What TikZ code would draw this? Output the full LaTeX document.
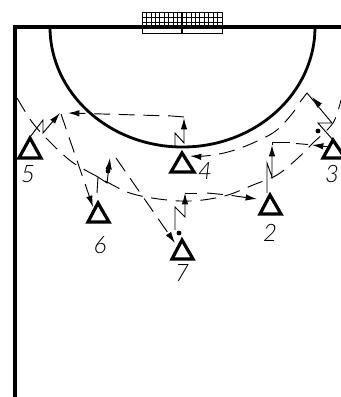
\documentclass[tikz,border=0pt]{standalone}
\usepackage{fontspec}
\usetikzlibrary{arrows.meta}
\newfontfamily\lab[ItalicFont={Lato Light Italic}]{Lato}
\tikzset{
 x=0.75pt,y=-0.75pt,
 wall/.style={line width=2.4pt,line cap=butt},
 player/.style={line width=2.4pt,line join=miter},
 plab/.style={font=\lab\itshape\fontsize{18pt}{18pt}\selectfont,inner sep=0pt},
 mv/.style={line width=0.7pt,line join=miter},
 pass/.style={line width=0.7pt,dash pattern=on 12pt off 6.5pt},
 head/.style={-{Latex[length=8.5pt,width=4.8pt]}},
 dotp/.style={circle,fill=black,inner sep=0pt,minimum size=3.6pt},
 goalnet/.style={line width=0.5pt},
}
\begin{document}
\begin{tikzpicture}
\useasboundingbox (0,0) rectangle (341,397);
% court
\coordinate (cTL) at (15,27); \coordinate (cBL) at (15,397); \coordinate (cTR) at (341,27);
\draw[wall] (cBL) -- (cTL) -- (cTR);
\draw[line width=2.1pt] (50,27) arc[start angle=180,end angle=0,x radius=132.5,y radius=120];
% goal
\fill[white] (142,12) rectangle (222,33);
\draw[line width=0.7pt] (142,27) -- (142,33) -- (222,33) -- (222,27);
\foreach \x in {142,146.44,...,222.1} \draw[goalnet] (\x,12) -- (\x,27);
\foreach \y in {12,17,22} \draw[goalnet] (142,\y) -- (222,\y);
\draw[line width=1.1pt] (182,12) -- (182,33);
\draw[wall] (142,27) -- (222,27);
% players
\foreach \n/\ax/\ay/\l/\r/\b in {p5/30/138/19/41/158,p4/182/153/171/194/172,p3/333/140/323/345/158,p2/270/195/260/281/214,p6/98/203/88/109/222,p7/182/240/172/193/259}
  \draw[player] (\ax,\ay) -- (\r,\b) -- (\l,\b) -- cycle;
\node[plab] (l5) at (28,174) {5};
\node[plab] (l4) at (205,171) {4};
\node[plab] (l3) at (332,174) {3};
\node[plab] (l2) at (270,233) {2};
\node[plab] (l6) at (100,245) {6};
\node[plab] (l7) at (182,273) {7};
\node[dotp] (d7) at (179,233) {};
\node[dotp] (d6) at (108,171) {};
\node[dotp] (d3) at (318,131) {};
% long curve
\draw[pass] plot[smooth,tension=0.55] coordinates {(17,98) (32,122) (48,140) (72,162) (100,178) (127,192) (152,198) (180,201) (203,200) (228,195) (253,185) (277,175) (298,158) (313,143) (333,123) (341,100)};
% player 4: zigzag then pass to 5's side
\draw[mv,head] (175,146) -- (175,133) -- (184,143) -- (184,118);
\draw[pass,head] (184,117) -- (172,116) -- (68,113);
% player 5
\draw[mv,head] (30,137) -- (43,120) -- (43,133) -- (60,113);
\draw[pass,head] (61,114) -- (93,207);
% player 6
\draw[mv,head] (97,193) -- (98,177) -- (107,183) -- (110,158);
\draw[pass,head] (116,158) -- (175,243);
% player 7
\draw[mv,head] (175,230) -- (175,207) -- (185,217) -- (185,193);
\draw[mv] (185,193) -- (197,193);
\draw[pass,head] (207,193) -- (228,195) -- (257,199);
% player 2
\draw[mv,head] (267,193) -- (267,163) -- (272,177) -- (272,145);
\draw[mv] (272,145) -- (272,142) -- (290,142);
\draw[mv,head] (330,147) -- (312,145);
\draw[mv] (308,144.5) -- (296,143.5);
% player 3
\draw[mv] (333,140) -- (318,123) -- (332,123) -- (307,93) -- (300,102);
\draw[mv,head] (320,106) -- (312,97);
\draw[pass,head] plot[smooth,tension=0.6] coordinates {(295,110) (277,130) (253,143) (228,152) (205,156) (190,156)};
\end{tikzpicture}
\end{document}
